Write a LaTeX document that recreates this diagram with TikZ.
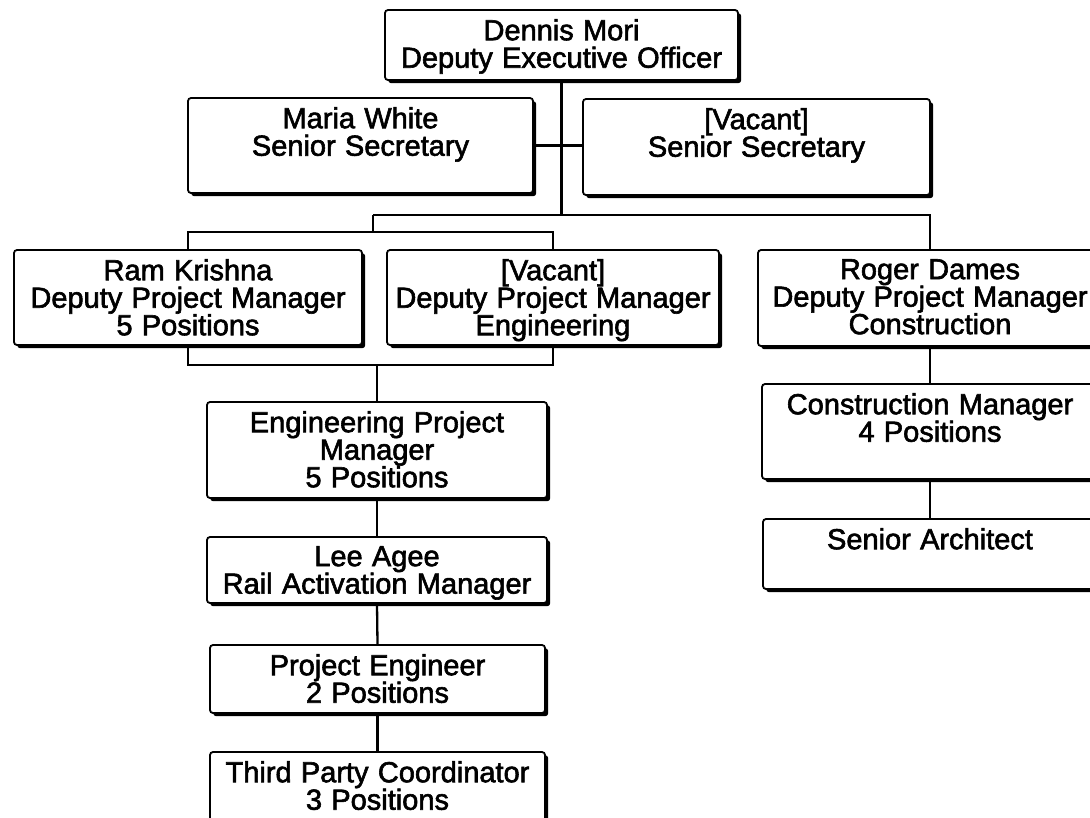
\documentclass[tikz,border=0pt]{standalone}
\usepackage{fontspec}
\newfontfamily\orgfont{Liberation Sans}[FakeBold=2.0, WordSpace=1.15]
\usetikzlibrary{shadows}
\tikzset{
  x=1pt, y=-1pt,
  orgbox/.style={draw=black, line width=1.8pt, rounded corners=3pt, fill=white,
    inner sep=0pt,
    drop shadow={shadow xshift=3.2pt, shadow yshift=-3.2pt, opacity=1, fill=black}},
  orgtext/.style={anchor=north, inner sep=0pt, align=center,
    font=\orgfont\fontsize{29}{27.5}\selectfont},
  conn/.style={draw=black, line width=2.3pt}
}
\newcommand\OrgBox[6]{%
  \node[orgbox, minimum width={#4pt-#2pt}, minimum height={#5pt-#3pt}]
    (#1) at ({(#2+#4)/2},{(#3+#5)/2}) {};
  \node[orgtext] (#1t) at ({(#2+#4)/2},{#3+9}) {#6};
}
\begin{document}
\begin{tikzpicture}
\clip (0,0) rectangle (1090,817);
\fill[white] (0,0) rectangle (1090,817);

\coordinate (bar1L) at (373,215);
\coordinate (bar2) at (373,232);
\coordinate (bar3) at (377,365);

\OrgBox{dennis}{385}{10}{738}{80}{Dennis Mori\\Deputy Executive Officer}
\OrgBox{maria}{188}{98}{533}{193}{Maria White\\Senior Secretary}
\OrgBox{vacsec}{583}{99}{930}{195}{[Vacant]\\Senior Secretary}
\OrgBox{ram}{14}{250}{362}{345}{Ram Krishna\\Deputy Project Manager\\5 Positions}
\OrgBox{vdpm}{387}{250}{719}{345}{[Vacant]\\Deputy Project Manager\\Engineering}
\OrgBox{roger}{758}{250}{1102}{346}{Roger Dames\\Deputy Project Manager\\Construction}
\OrgBox{cm}{762}{384}{1098}{479}{Construction Manager\\4 Positions}
\OrgBox{sa}{763}{519}{1097}{589}{Senior Architect}
\OrgBox{epm}{207}{402}{547}{498}{Engineering Project\\Manager\\5 Positions}
\OrgBox{lee}{207}{537}{547}{603}{Lee Agee\\Rail Activation Manager}
\OrgBox{pe}{210}{645}{545}{713}{Project Engineer\\2 Positions}
\OrgBox{tpc}{210}{752}{545}{840}{Third Party Coordinator\\3 Positions}

\draw[conn] (dennis.south) -- (dennis.south |- bar1L);
\draw[conn] (maria.east) -- (maria.east -| vacsec.west);
\draw[conn] (bar1L) -- (bar1L -| roger.north) -- (roger.north);
\draw[conn] (bar1L) -- (bar2);
\draw[conn] (ram.north) -- (ram.north |- bar2) -- (bar2 -| vdpm.north) -- (vdpm.north);
\draw[conn] (ram.south) -- (ram.south |- bar3) -- (bar3 -| vdpm.south) -- (vdpm.south);
\draw[conn] (bar3) -- (epm.north);
\draw[conn] (epm.south) -- (lee.north);
\draw[conn] (lee.south) -- (pe.north);
\draw[conn] (pe.south) -- (tpc.north);
\draw[conn] (roger.south) -- (cm.north);
\draw[conn] (cm.south) -- (sa.north);
\end{tikzpicture}
\end{document}
